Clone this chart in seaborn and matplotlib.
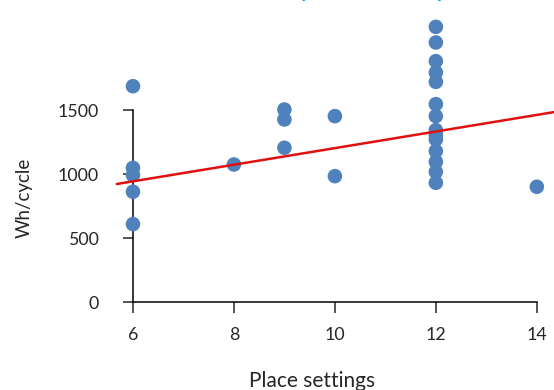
import numpy as np
import pandas as pd
import matplotlib
matplotlib.use("Agg")
import matplotlib.pyplot as plt
import seaborn as sns

# valores
place_settings = [6, 6, 6, 6, 6,
                  8,
                  9, 9, 9,
                  10, 10,
                  12, 12, 12, 12, 12, 12, 12, 12, 12, 12, 12, 12, 12, 12,
                  14]
wh_cycle = [1687, 1049, 992, 862, 609,
            1075,
            1505, 1427, 1206,
            1453, 984,
            2151, 2029, 1883, 1794, 1721, 1547, 1453, 1344, 1305, 1271, 1180, 1096, 1018, 932,
            901]

# linea de tendencia
trend_slope = 64.9
trend_intercept = 554.0
trend_x_range = [5.68, 14.34]

x_ticks = [6, 8, 10, 12, 14]
y_ticks = [0, 500, 1000, 1500]

df = pd.DataFrame({"Place settings": place_settings, "Wh/cycle": wh_cycle})

sns.set_style("white")
plt.rcParams['font.family'] = ['Lato', 'DejaVu Sans']

fig = plt.figure(figsize=(5.54, 3.90), dpi=100)
ax = fig.add_axes([0.240, 0.2256, 0.729, 0.492])

sns.scatterplot(data=df, x="Place settings", y="Wh/cycle", ax=ax, s=110,
                color="#4F81BD", edgecolor="none", clip_on=False, zorder=3)

tx = np.array(trend_x_range)
ax.plot(tx, trend_intercept + trend_slope * tx, color="#E01010", lw=1.8,
        clip_on=False, zorder=4)

ax.set_xlim(6, 14)
ax.set_ylim(0, 1500)
ax.set_xticks(x_ticks)
ax.set_yticks(y_ticks)

for s in ["top", "right"]:
    ax.spines[s].set_visible(False)
for s in ["left", "bottom"]:
    ax.spines[s].set_color("black")
    ax.spines[s].set_linewidth(1.1)

ax.tick_params(axis="y", direction="out", length=7.5, width=1.1, pad=17,
               labelsize=12.8, left=True)
ax.tick_params(axis="x", direction="out", length=8, width=1.1, pad=10,
               labelsize=12.8, bottom=True)

ax.set_xlabel("Place settings", fontsize=15)
ax.set_ylabel("Wh/cycle", fontsize=13.5)
ax.xaxis.set_label_coords(0.443, -0.36)
ax.yaxis.set_label_coords(-0.248, 0.544)

# titulo casi fuera de la imagen, solo se ven los trazos inferiores
fig.text(0.455, 1.006, "Survey of dishwasher power use", color="#00A0E8",
         fontsize=13.6, fontweight="bold", ha="left", va="baseline")

fig.savefig("out.png", dpi=100)
